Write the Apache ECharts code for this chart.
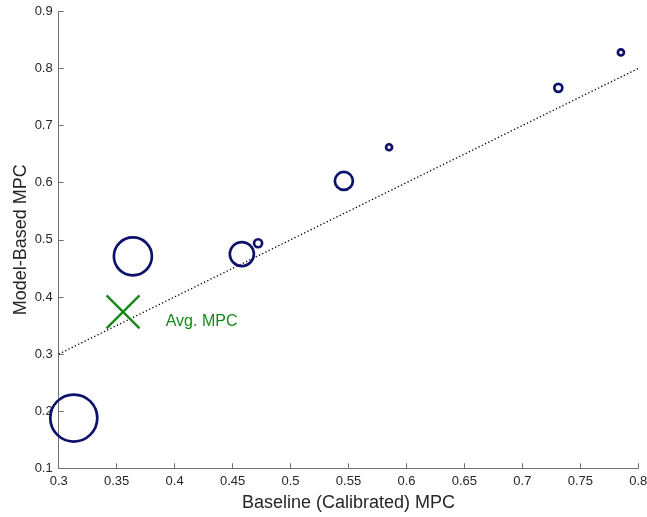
<!DOCTYPE html>
<html><head><meta charset="utf-8">
<script src="https://cdn.jsdelivr.net/npm/echarts@6/dist/echarts.min.js"></script>
<style>html,body{margin:0;padding:0;background:#fff}#c{width:647px;height:517px}</style>
</head><body><div id="c"></div>
<script>
const baselineMPC = [0.313, 0.364, 0.458, 0.472, 0.546, 0.585, 0.731, 0.785];
const modelMPC    = [0.188, 0.471, 0.475, 0.494, 0.603, 0.662, 0.766, 0.828];
const markerSize  = [47, 38, 24, 8, 18, 6, 8, 6];
const avgMPC = [0.3555, 0.374];
const avgLabel = 'Avg. MPC';
const diagLine = [[0.3, 0.3], [0.8, 0.8]];
const xTitle = 'Baseline (Calibrated) MPC';
const yTitle = 'Model-Based MPC';

const points = baselineMPC.map((x, i) => [x, modelMPC[i], markerSize[i]]);
const font = 'Liberation Sans, Helvetica, Arial, sans-serif';
const axisCommon = {
  axisLine: {show: true, lineStyle: {color: '#707070', width: 1}},
  axisTick: {show: true, inside: true, length: 5, lineStyle: {color: '#707070'}},
  splitLine: {show: false},
  axisLabel: {color: '#262626', fontSize: 13, fontFamily: font},
  nameTextStyle: {color: '#262626', fontSize: 18, fontFamily: font},
  nameMoveOverlap: false
};
const chart = echarts.init(document.getElementById('c'));
chart.setOption({
  animation: false,
  grid: {left: 58.7, right: 8.7, top: 11.3, bottom: 48.7, outerBoundsMode: 'none', containLabel: false},
  xAxis: Object.assign({}, axisCommon, {
    type: 'value', min: 0.3, max: 0.8, interval: 0.05,
    name: xTitle, nameLocation: 'middle', nameGap: 26,
    axisLabel: Object.assign({}, axisCommon.axisLabel, {margin: 7,
      formatter: v => String(+v.toFixed(2))})
  }),
  yAxis: Object.assign({}, axisCommon, {
    type: 'value', min: 0.1, max: 0.9, interval: 0.1,
    name: yTitle, nameLocation: 'middle', nameGap: 29,
    axisLabel: Object.assign({}, axisCommon.axisLabel, {margin: 6,
      formatter: v => String(+v.toFixed(1))})
  }),
  series: [
    {
      type: 'line', data: diagLine, symbol: 'none', silent: true,
      lineStyle: {color: '#000', width: 1.3, type: [1.3, 2.3]}, z: 1
    },
    {
      type: 'scatter', data: points, symbol: 'circle',
      symbolSize: d => d[2],
      itemStyle: {color: 'rgba(0,0,0,0)', borderColor: '#0e116b', borderWidth: 2.7, opacity: 1},
      z: 3
    },
    {
      type: 'scatter', data: [avgMPC], symbol: 'path://M0,0L10,10M10,0L0,10',
      symbolSize: 33,
      itemStyle: {color: 'rgba(0,0,0,0)', borderColor: '#17881a', borderWidth: 2.4, opacity: 1},
      label: {show: true, position: 'right', distance: 25, offset: [0, 10],
        formatter: avgLabel, color: '#17881a', fontSize: 16, fontFamily: font},
      z: 4
    }
  ]
});
</script></body></html>
